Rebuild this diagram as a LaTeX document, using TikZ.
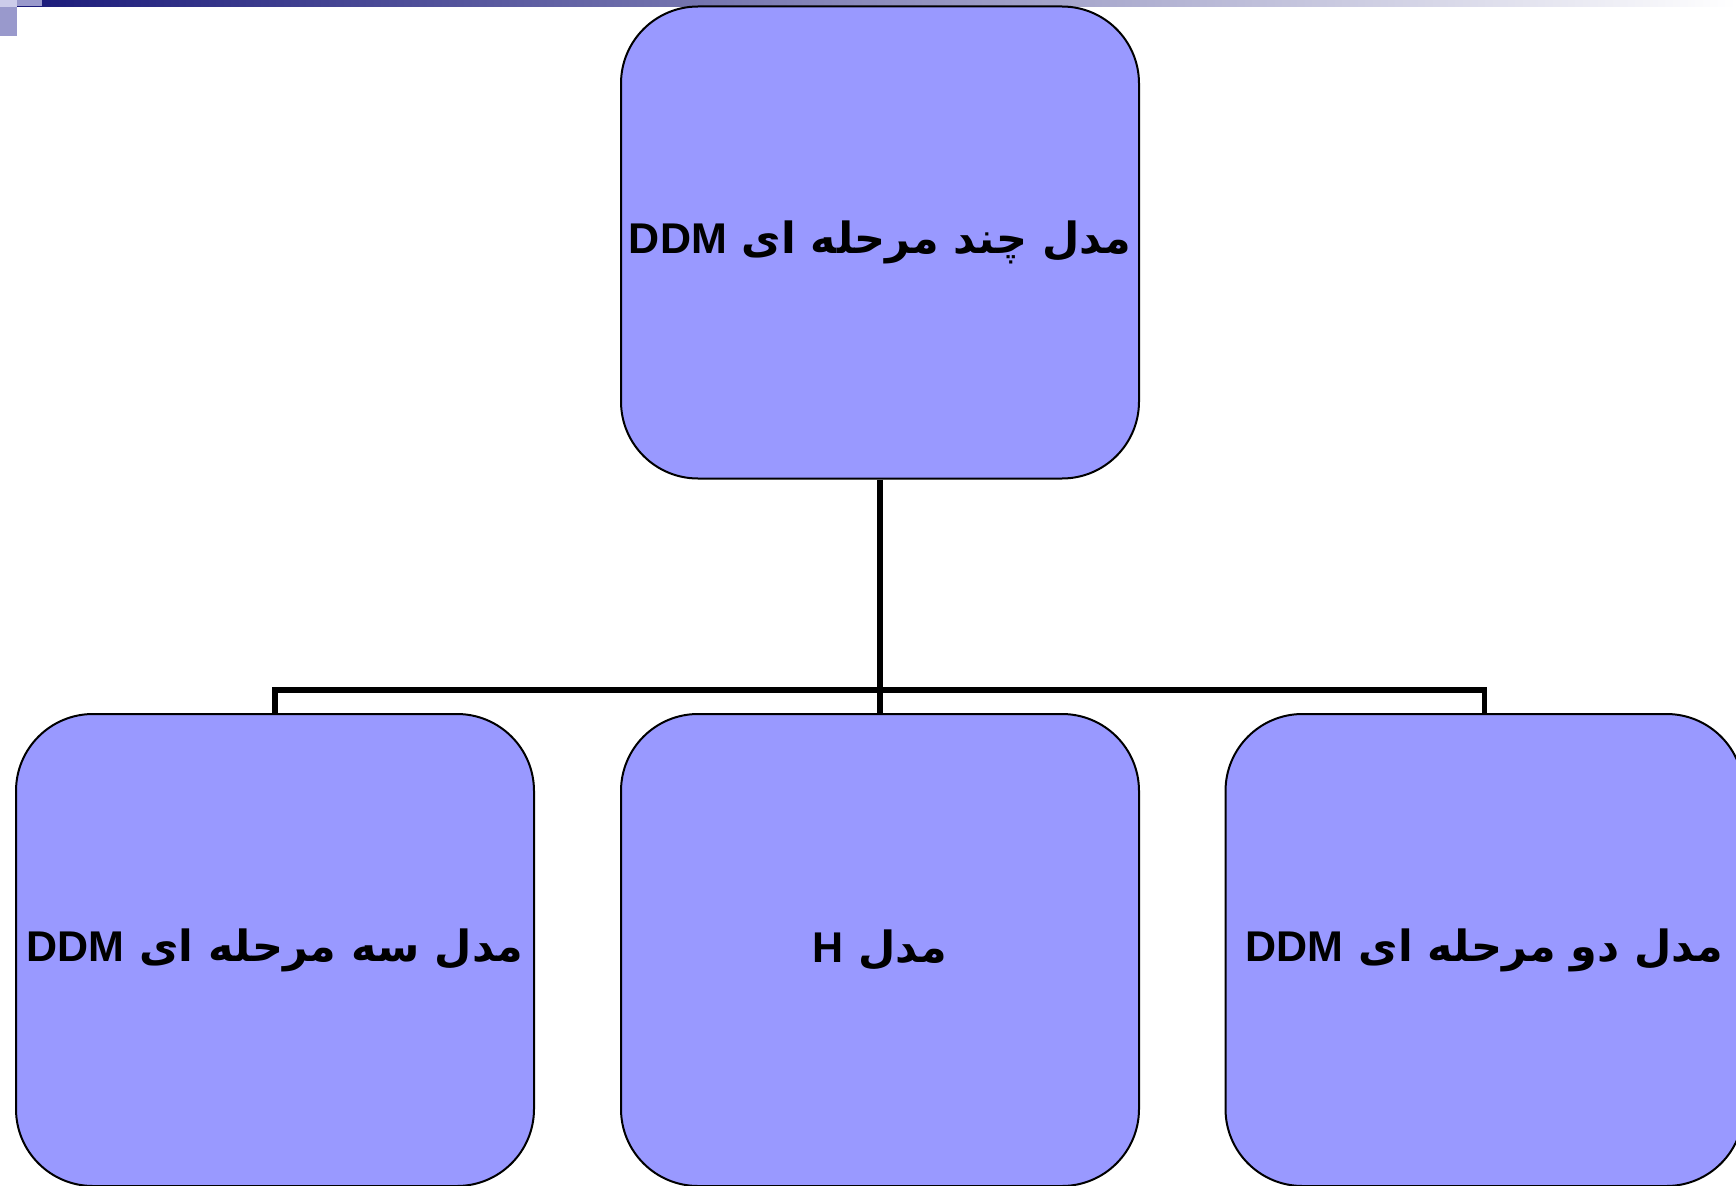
\documentclass[tikz,border=0pt]{standalone}
\usepackage{fontspec}
\TeXXeTstate=1
\newfontfamily\arabicfont[Script=Arabic]{DejaVu Sans}
\newfontfamily\latinfont{Liberation Sans}
\definecolor{boxfill}{RGB}{153,153,255}
\definecolor{navy}{RGB}{26,26,122}
\definecolor{lilac}{RGB}{153,153,204}
\definecolor{palelilac}{RGB}{204,204,234}
\begin{document}
\begin{tikzpicture}[x=1pt,y=-1pt,
  box/.style={draw=black,line width=2pt,fill=boxfill,rounded corners=77pt,
    minimum width=518pt,minimum height=472pt,inner sep=0pt,
    font=\fontsize{43}{52}\selectfont\bfseries},
  link/.style={draw=black,line width=5.5pt}]
\useasboundingbox (0,0) rectangle (1736,1185);
\clip (0,0) rectangle (1736,1185);
% header decoration
\shade[left color=navy,right color=white] (17,0) rectangle (1736,7);
\fill[palelilac] (0,0) rectangle (17,7);
\fill[lilac] (17,0) rectangle (42,6);
\fill[lilac] (0,7) rectangle (17,36);
% boxes
\node[box] (top) at (880,242.5) {\arabicfont\beginR مدل چند مرحله ای \beginL{\latinfont DDM}\endL\endR};
\node[box] (left) at (275,950) {\arabicfont\beginR مدل سه مرحله ای \beginL{\latinfont DDM}\endL\endR};
\node[box] (mid) at (880,950) {\arabicfont\beginR مدل \beginL{\latinfont H}\endL\endR};
\node[box] (right) at (1484.5,950) {\arabicfont\beginR مدل دو مرحله ای \beginL{\latinfont DDM}\endL\endR};
% connectors
\coordinate (bus) at (880,690);
\draw[link] (top.south) -- (mid.north);
\draw[link] (bus) -| (left.north);
\draw[link] (bus) -| (right.north);
\end{tikzpicture}
\end{document}
